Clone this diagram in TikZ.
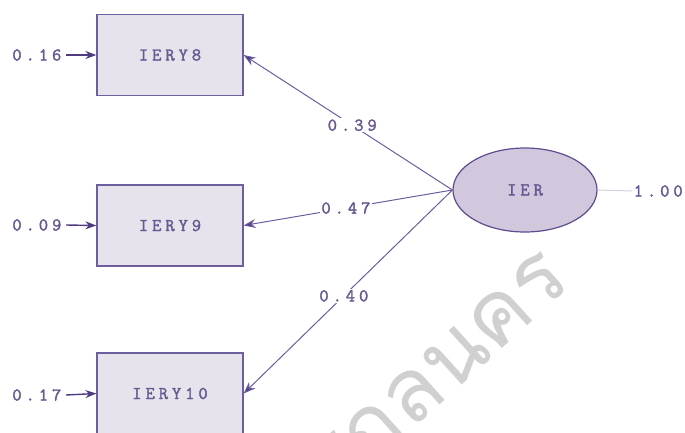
\documentclass[tikz,border=0pt]{standalone}
\usepackage{fontspec}
\newfontfamily\lisfont[LetterSpace=22,FakeBold=2]{Latin Modern Mono}
\newfontfamily\thaifont[Script=Thai]{Loma}
\usetikzlibrary{shapes.geometric,arrows.meta}
\definecolor{boxfill}{HTML}{E7E3EC}
\definecolor{boxdraw}{HTML}{6F5E9C}
\definecolor{latfill}{HTML}{D2C8DE}
\definecolor{latdraw}{HTML}{5F4C8E}
\definecolor{linec}{HTML}{6E5C9E}
\definecolor{headc}{HTML}{4F3B82}
\definecolor{txt}{HTML}{6A5A92}
\definecolor{faint}{HTML}{D8D0E2}
\definecolor{wmark}{HTML}{D0D0D0}
\tikzset{
  lbltext/.style={text=txt, font=\lisfont\fontsize{18}{18}\selectfont},
  obs/.style={draw=boxdraw, line width=1.3pt, fill=boxfill, minimum width=146pt,
    minimum height=81pt, inner sep=0pt, lbltext},
  lat/.style={ellipse, draw=latdraw, line width=1.2pt, fill=latfill, minimum width=144pt,
    minimum height=84pt, inner sep=0pt, lbltext},
  lbl/.style={inner sep=1.5pt, fill=white, lbltext},
  load/.style={draw=linec, line width=1pt, -{Stealth[length=12pt,width=9pt,fill=headc]}},
  err/.style={draw=headc, line width=1.4pt, -{Stealth[length=11pt,width=8pt,fill=headc]}},
}
\begin{document}
\begin{tikzpicture}[x=1pt,y=-1pt]
\useasboundingbox (0,0) rectangle (685,432);
\clip (0,0) rectangle (685,432);
\node[rotate=42, anchor=base east, text=wmark, inner sep=0pt,
  font=\thaifont\fontsize{88}{88}\selectfont] (wm) at (574,284) {สกลนคร};
\node[obs] (y8) at (170,55) {IERY8};
\node[obs] (y9) at (170,225.5) {IERY9};
\node[obs] (y10) at (170,393.5) {IERY10};
\node[lat] (ier) at (525,190) {IER};
\node[lbl, anchor=east] (e8) at (63,55) {0.16};
\node[lbl, anchor=east] (e9) at (63,225) {0.09};
\node[lbl, anchor=east] (e10) at (63,395) {0.17};
\draw[err] (e8.east) ++(3,0) -- (y8.west);
\draw[err] (e9.east) ++(3,0) -- (y9.west);
\draw[err] (e10.east) ++(3,0) -- (y10.west);
\draw[load] (ier.west) -- node[lbl, pos=0.48] {0.39} (y8.east);
\draw[load] (ier.west) -- node[lbl, pos=0.51] {0.47} (y9.east);
\draw[load] (ier.west) -- node[lbl, pos=0.52] {0.40} (y10.east);
\node[lbl, anchor=west] (var) at (632,191) {1.00};
\draw[faint, line width=1pt] (ier.east) -- (var.west);
\end{tikzpicture}
\end{document}
